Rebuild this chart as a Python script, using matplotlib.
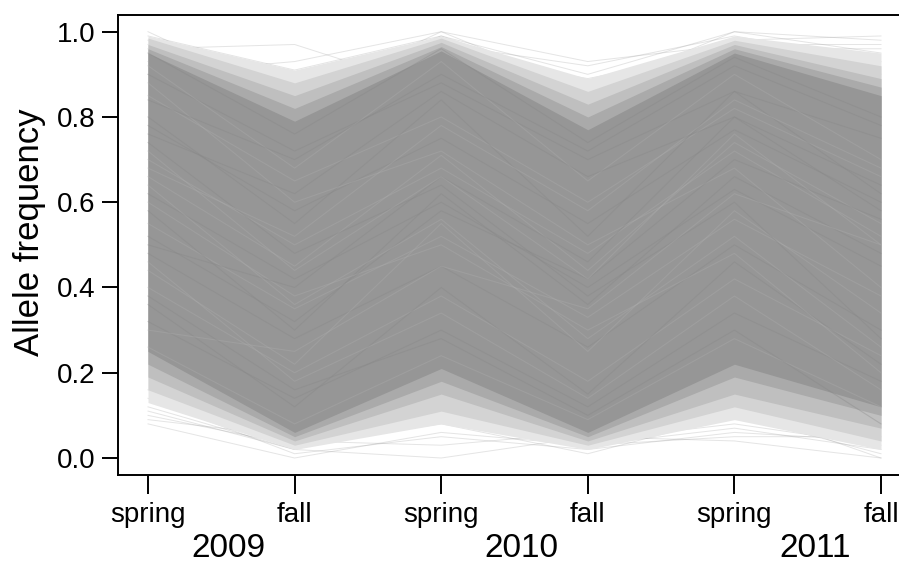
import matplotlib
matplotlib.use("Agg")
import matplotlib.pyplot as plt
import matplotlib.transforms as mtransforms
import numpy as np

plt.rcParams['font.family'] = ['Liberation Sans', 'DejaVu Sans']

# ---- data ----
seasons = ["spring", "fall", "spring", "fall", "spring", "fall"]
years = ["2009", "2010", "2011"]
time_idx = [1, 2, 3, 4, 5, 6]

# envelope quantiles of the allele-frequency trajectories at each sample
q_hi99 = [0.990, 0.91, 0.990, 0.89, 0.99, 0.95]
q_hi97 = [0.985, 0.88, 0.985, 0.86, 0.98, 0.92]
q_hi95 = [0.970, 0.85, 0.975, 0.83, 0.97, 0.89]
q_hi92 = [0.960, 0.82, 0.965, 0.80, 0.96, 0.87]
q_hi90 = [0.950, 0.79, 0.955, 0.77, 0.95, 0.85]
q_lo10 = [0.25, 0.06, 0.21, 0.06, 0.22, 0.12]
q_lo08 = [0.22, 0.05, 0.18, 0.05, 0.19, 0.10]
q_lo05 = [0.19, 0.04, 0.15, 0.04, 0.15, 0.07]
q_lo03 = [0.16, 0.03, 0.11, 0.03, 0.12, 0.04]
q_lo01 = [0.13, 0.02, 0.08, 0.02, 0.09, 0.02]

# individual faint outlying trajectories
outlier_lines = [
    [0.96, 0.97, 0.86, 0.78, 0.98, 0.99],
    [0.90, 0.93, 1.00, 0.93, 0.97, 0.97],
    [0.99, 0.91, 0.99, 0.90, 1.00, 0.95],
    [0.97, 0.90, 0.97, 0.92, 0.99, 0.93],
    [0.93, 0.88, 0.95, 0.89, 0.96, 0.96],
    [0.98, 0.86, 0.99, 0.87, 0.98, 0.90],
    [1.00, 0.84, 1.00, 0.86, 1.00, 0.98],
    [0.08, 0.00, 0.06, 0.03, 0.07, 0.02],
    [0.12, 0.02, 0.00, 0.05, 0.04, 0.00],
    [0.10, 0.03, 0.08, 0.01, 0.10, 0.01],
    [0.14, 0.01, 0.05, 0.02, 0.06, 0.04],
    [0.09, 0.05, 0.11, 0.04, 0.08, 0.03],
    [0.16, 0.04, 0.03, 0.06, 0.12, 0.00],
    [0.11, 0.02, 0.10, 0.03, 0.05, 0.05],
]

# representative trajectories inside the dense core
core_lines = [
    [0.90, 0.72, 0.88, 0.70, 0.86, 0.75],
    [0.85, 0.65, 0.80, 0.60, 0.82, 0.66],
    [0.78, 0.58, 0.75, 0.55, 0.77, 0.60],
    [0.70, 0.50, 0.68, 0.48, 0.72, 0.52],
    [0.62, 0.42, 0.60, 0.40, 0.63, 0.45],
    [0.55, 0.35, 0.52, 0.33, 0.56, 0.38],
    [0.48, 0.28, 0.45, 0.26, 0.50, 0.30],
    [0.40, 0.20, 0.38, 0.18, 0.42, 0.24],
    [0.32, 0.14, 0.30, 0.12, 0.34, 0.18],
    [0.92, 0.68, 0.93, 0.65, 0.90, 0.70],
    [0.80, 0.55, 0.84, 0.52, 0.86, 0.62],
    [0.66, 0.45, 0.71, 0.44, 0.74, 0.55],
    [0.58, 0.30, 0.62, 0.36, 0.66, 0.48],
    [0.44, 0.22, 0.55, 0.25, 0.58, 0.34],
    [0.36, 0.12, 0.40, 0.15, 0.46, 0.22],
    [0.88, 0.60, 0.72, 0.50, 0.68, 0.40],
    [0.74, 0.48, 0.64, 0.38, 0.60, 0.28],
    [0.60, 0.38, 0.50, 0.30, 0.48, 0.20],
    [0.50, 0.40, 0.66, 0.46, 0.80, 0.58],
    [0.30, 0.25, 0.45, 0.35, 0.62, 0.50],
    [0.95, 0.76, 0.96, 0.74, 0.94, 0.80],
    [0.26, 0.08, 0.24, 0.09, 0.28, 0.12],
    [0.84, 0.70, 0.90, 0.72, 0.92, 0.78],
    [0.68, 0.52, 0.78, 0.58, 0.84, 0.68],
    [0.52, 0.32, 0.58, 0.42, 0.70, 0.56],
    [0.46, 0.18, 0.34, 0.14, 0.38, 0.16],
    [0.76, 0.62, 0.86, 0.66, 0.80, 0.64],
    [0.64, 0.36, 0.56, 0.28, 0.52, 0.26],
    [0.38, 0.16, 0.28, 0.10, 0.30, 0.08],
    [0.72, 0.44, 0.66, 0.42, 0.76, 0.50],
]

y_ticks = [0.0, 0.2, 0.4, 0.6, 0.8, 1.0]

# ---- figure ----
W, H = 899, 565
fig = plt.figure(figsize=(W / 100, H / 100), dpi=100)
ax_left, ax_right, ax_top, ax_bot = 118.3, 899.0, 15.0, 475.0
ax = fig.add_axes([ax_left / W, 1 - ax_bot / H, (ax_right - ax_left) / W, (ax_bot - ax_top) / H])

x = np.array(time_idx, dtype=float)

for ln in outlier_lines:
    ax.plot(x, ln, color="#a0a0a0", lw=0.7, alpha=0.28, zorder=1)

bands = [
    (q_lo01, q_hi99, "#e6e6e6"),
    (q_lo03, q_hi97, "#d3d3d3"),
    (q_lo05, q_hi95, "#bfbfbf"),
    (q_lo08, q_hi92, "#aaaaaa"),
    (q_lo10, q_hi90, "#969696"),
]
for z, (lo, hi, col) in enumerate(bands):
    ax.fill_between(x, lo, hi, color=col, lw=0, zorder=2 + z)

for i, ln in enumerate(core_lines):
    col = "#868686" if i % 2 == 0 else "#aeaeae"
    ax.plot(x, ln, color=col, lw=0.8, alpha=0.35, zorder=8)

# axes range
px_per_x = (881 - 148) / 5.0
ax.set_xlim(1 - (148 - ax_left) / px_per_x, 6 + (ax_right - 881) / px_per_x)
px_per_y = (458 - 31.7)
ax.set_ylim(-(ax_bot - 458) / px_per_y, 1 + (31.7 - ax_top) / px_per_y)

ax.set_xticks(time_idx)
ax.set_xticklabels(seasons)
ax.set_yticks(y_ticks)
ax.set_yticklabels([f"{v:.1f}" for v in y_ticks])

for s in ["left", "bottom", "top"]:
    ax.spines[s].set_linewidth(1.4)
    ax.spines[s].set_color("black")
    ax.spines[s].set_zorder(10)
ax.spines["right"].set_visible(False)

ax.tick_params(axis="x", direction="out", length=13.7, width=1.4, pad=5.5,
               labelsize=20, colors="black")
ax.tick_params(axis="y", direction="out", length=11.5, width=1.4, pad=5.0,
               labelsize=20, colors="black")

fig.text(29.3 / W, 1 - 232.5 / H, "Allele frequency", rotation=90,
         ha="center", va="center", fontsize=25)

trans = mtransforms.blended_transform_factory(ax.transData, fig.transFigure)
for i, yr in enumerate(years):
    ax.text(1.55 + 2 * i, 1.0 / H, yr, transform=trans, ha="center",
            va="bottom", fontsize=24, clip_on=False)

fig.savefig("out.png", dpi=100)
